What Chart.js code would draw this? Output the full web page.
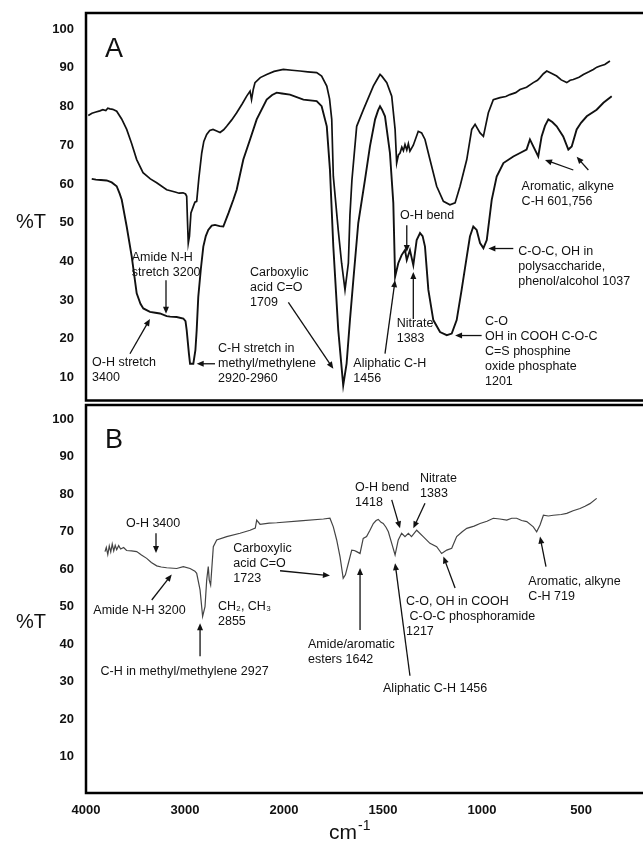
<!DOCTYPE html>
<html>
<head>
<meta charset="utf-8">
<script src="https://cdn.jsdelivr.net/npm/chart.js@4.4.1/dist/chart.umd.min.js"></script>
<style>
  html, body { margin: 0; padding: 0; background: #fff; overflow: hidden; }
  canvas { position: absolute; left: 0; }
  #chartA { top: 0; }
  #chartB { top: 403px; }
</style>
</head>
<body>
<canvas id="chartA" width="643" height="403"></canvas>
<canvas id="chartB" width="643" height="440"></canvas>
<script>
// tick labels
var xTickLabels = [4000, 3000, 2000, 1500, 1000, 500];
var yTicks = [10, 20, 30, 40, 50, 60, 70, 80, 90, 100];

// panel A, upper spectrum (wavenumber cm-1, %T)
var aUpperWn = [3977, 3940, 3900, 3860, 3830, 3800, 3780, 3758, 3730, 3690, 3640, 3589, 3540, 3488, 3424, 3350, 3286, 3185, 3100, 3060,
  3020, 2995, 2983, 2975, 2967, 2955, 2940, 2916, 2900, 2882, 2860, 2831, 2810, 2781, 2750, 2717, 2680, 2646, 2610, 2579,
  2530, 2478, 2420, 2377, 2343, 2328, 2310, 2293, 2240, 2175, 2100, 2007, 1960, 1919, 1880, 1835, 1810, 1784, 1770, 1759,
  1751, 1726, 1709, 1692, 1675, 1667, 1657, 1633, 1599, 1549, 1530, 1515, 1505, 1481, 1456, 1439, 1431, 1422, 1414, 1405,
  1397, 1389, 1380, 1372, 1364, 1347, 1322, 1305, 1288, 1263, 1229, 1195, 1162, 1136, 1111, 1077, 1052, 1035, 1010, 993,
  968, 943, 909, 880, 859, 830, 808, 775, 741, 720, 707, 690, 673, 650, 623, 600, 572, 555, 539, 510,
  488, 460, 438, 420, 404, 380, 354];
var aUpperT = [77.7, 78.3, 78.6, 78.9, 79.2, 79.0, 79.6, 79.4, 79.3, 78.8, 76.8, 74.1, 70.5, 66.3, 62.9, 61.3, 60.3, 58.5, 57.9, 57.6,
  57.7, 57.4, 56.8, 50.5, 44.7, 46.5, 52.5, 54.2, 55.3, 55.5, 61.5, 68.0, 71.0, 72.8, 73.8, 74.1, 73.7, 73.3, 74.0, 74.9,
  76.5, 78.4, 80.8, 82.7, 84.0, 81.8, 84.5, 86.2, 87.5, 88.3, 89.1, 89.6, 89.4, 89.2, 89.0, 88.8, 87.9, 85.3, 82.0, 76.7,
  62.0, 48.0, 39.5, 32.6, 39.5, 52.0, 61.0, 74.9, 79.2, 85.3, 87.0, 88.3, 87.8, 86.2, 82.7, 74.1, 65.4, 67.5, 68.0, 69.5,
  68.6, 70.2, 68.8, 70.4, 68.5, 70.0, 73.6, 73.2, 71.5, 66.3, 59.4, 55.5, 54.6, 55.1, 59.4, 66.3, 74.1, 75.4, 73.2, 72.3,
  78.4, 81.8, 82.3, 82.6, 83.1, 83.6, 84.4, 85.0, 86.2, 86.8, 87.5, 88.5, 89.2, 88.6, 87.9, 86.9, 86.2, 86.8, 87.0, 87.6,
  88.3, 89.0, 89.6, 90.2, 90.5, 90.9, 91.8];

// panel A, lower spectrum
var aLowerWn = [3942, 3900, 3850, 3791, 3740, 3690, 3660, 3639, 3589, 3538, 3488, 3450, 3421, 3354, 3300, 3253, 3185, 3150, 3084, 3017,
  2995, 2983, 2960, 2949, 2916, 2895, 2882, 2866, 2840, 2815, 2790, 2765, 2730, 2697, 2650, 2613, 2560, 2512, 2478, 2411,
  2343, 2276, 2175, 2120, 2074, 2020, 1970, 1902, 1835, 1810, 1784, 1768, 1751, 1726, 1701, 1684, 1667, 1650, 1625, 1591,
  1566, 1540, 1525, 1515, 1505, 1490, 1465, 1448, 1439, 1423, 1406, 1389, 1380, 1364, 1347, 1330, 1313, 1300, 1288, 1271,
  1246, 1212, 1178, 1153, 1128, 1103, 1077, 1061, 1044, 1027, 1010, 993, 976, 951, 926, 892, 842, 808, 775, 758,
  741, 716, 699, 682, 665, 645, 623, 590, 564, 547, 522, 500, 471, 421, 387, 345];
var aLowerT = [61.3, 61.1, 61.0, 60.9, 60.4, 59.4, 57.5, 55.9, 49.0, 41.2, 31.7, 29.0, 27.8, 26.9, 26.7, 26.5, 25.8, 25.7, 25.6, 25.2,
  24.5, 22.2, 16.0, 13.5, 13.5, 17.0, 22.2, 30.8, 38.0, 43.8, 46.5, 48.1, 49.2, 49.4, 49.1, 49.0, 52.5, 55.9, 58.5, 66.3,
  71.5, 76.7, 81.8, 83.0, 83.6, 83.4, 83.1, 81.8, 81.4, 80.1, 74.9, 63.7, 43.8, 22.2, 7.9, 13.5, 24.8, 35.1, 49.9, 61.1,
  69.7, 76.7, 79.0, 80.1, 79.2, 77.5, 68.0, 55.1, 36.0, 39.5, 41.6, 42.9, 40.3, 42.9, 39.0, 45.5, 47.3, 46.5, 43.8, 32.6,
  24.8, 21.7, 20.9, 21.3, 24.8, 32.6, 41.2, 46.4, 49.0, 48.1, 44.7, 43.4, 45.5, 55.9, 61.9, 65.4, 67.1, 68.0, 68.9, 71.5,
  69.7, 67.1, 72.3, 75.0, 76.7, 76.0, 74.9, 72.3, 68.9, 69.7, 74.1, 75.8, 77.5, 79.2, 81.0, 82.7];

// panel B spectrum
var bWn = [3808, 3795, 3780, 3765, 3750, 3735, 3720, 3705, 3690, 3670, 3650, 3620, 3590, 3540, 3488, 3440, 3387, 3340, 3286, 3240,
  3185, 3084, 3017, 2949, 2900, 2882, 2848, 2822, 2798, 2781, 2765, 2755, 2741, 2714, 2680, 2579, 2444, 2343, 2290, 2276,
  2242, 2150, 2074, 1919, 1801, 1768, 1751, 1734, 1717, 1701, 1690, 1675, 1658, 1645, 1633, 1616, 1600, 1583, 1566, 1549,
  1535, 1524, 1510, 1499, 1485, 1473, 1456, 1439, 1423, 1406, 1389, 1372, 1356, 1330, 1297, 1263, 1229, 1204, 1178, 1153,
  1128, 1100, 1077, 1040, 1010, 975, 943, 910, 875, 850, 825, 800, 774, 741, 724, 707, 690, 665, 640, 600,
  572, 540, 505, 480, 455, 421];
var bT = [64.7, 65.8, 63.9, 66.2, 64.6, 66.7, 64.9, 66.4, 65.2, 66.3, 65.4, 65.8, 65.0, 64.9, 64.7, 63.8, 62.9, 61.8, 60.9, 60.6,
  60.4, 60.2, 60.7, 60.2, 59.5, 58.9, 54.5, 47.4, 50.0, 57.1, 60.7, 57.1, 55.8, 66.0, 67.8, 68.7, 69.6, 70.4, 71.0, 73.1,
  72.0, 72.3, 72.4, 72.9, 73.4, 73.6, 71.3, 67.8, 63.3, 57.6, 58.5, 61.6, 65.1, 65.0, 64.7, 64.2, 68.2, 68.7, 70.4, 72.2,
  73.0, 73.3, 72.5, 72.2, 71.2, 70.0, 66.9, 63.8, 67.8, 69.6, 68.7, 69.6, 68.7, 70.4, 68.7, 66.9, 66.0, 64.2, 65.1, 65.6,
  68.7, 70.0, 70.9, 71.5, 72.2, 72.8, 73.6, 73.4, 73.1, 73.6, 73.6, 73.0, 72.7, 71.3, 70.0, 71.8, 74.4, 74.2, 74.4, 74.6,
  74.9, 75.6, 76.2, 76.8, 77.5, 78.9];

// band assignments: text lines, text anchor [cm-1, %T], arrows [from cm-1, %T, to cm-1, %T]
var notesA = [
  { lines: ['Amide N-H', 'stretch 3200'], at: [3538, 41.0], arrows: [[3192, 35.1, 3192, 26.4]] },
  { lines: ['O-H stretch', '3400'], at: [3939, 13.9], arrows: [[3556, 16.1, 3354, 25.1]] },
  { lines: ['C-H stretch in', 'methyl/methylene', '2920-2960'], at: [2667, 17.4], arrows: [[2697, 13.5, 2882, 13.5]] },
  { lines: ['Carboxylic', 'acid C=O', '1709'], at: [2343, 37.2], arrows: [[1978, 29.4, 1751, 12.2]] },
  { lines: ['O-H bend'], at: [1414, 51.9], arrows: [[1380, 49.3, 1380, 42.4]] },
  { lines: ['Nitrate', '1383'], at: [1431, 23.8], arrows: [[1347, 25.1, 1347, 37.2]] },
  { lines: ['Aliphatic C-H', '1456'], at: [1650, 13.6], arrows: [[1490, 16.1, 1439, 35.1]] },
  { lines: ['C-O', 'OH in COOH C-O-C', 'C=S phosphine', 'oxide phosphate', '1201'], at: [985, 24.3], arrows: [[1002, 20.8, 1136, 20.8]] },
  { lines: ['C-O-C, OH in', 'polysaccharide,', 'phenol/alcohol 1037'], at: [817, 42.4], arrows: [[842, 43.3, 968, 43.3]] },
  { lines: ['Aromatic, alkyne', 'C-H 601,756'], at: [800, 59.3], arrows: [[539, 63.6, 682, 66.2], [463, 63.6, 522, 67.0]] }
];
var notesB = [
  { lines: ['O-H 3400'], at: [3596, 72.3], arrows: [[3293, 69.6, 3293, 64.3]] },
  { lines: ['Amide N-H 3200'], at: [3926, 49.0], arrows: [[3336, 51.8, 3134, 58.6]] },
  { lines: ['CH\u2082, CH\u2083', '2855'], at: [2667, 50.0], arrows: [] },
  { lines: ['C-H in methyl/methylene 2927'], at: [3854, 32.7], arrows: [[2848, 36.8, 2848, 45.6]] },
  { lines: ['Carboxylic', 'acid C=O', '1723'], at: [2512, 65.4], arrows: [[2040, 59.6, 1768, 58.3]] },
  { lines: ['Amide/aromatic', 'esters 1642'], at: [1879, 39.8], arrows: [[1616, 43.8, 1616, 60.3]] },
  { lines: ['Aliphatic C-H 1456'], at: [1500, 28.3], arrows: [[1364, 31.6, 1439, 61.6]] },
  { lines: ['O-H bend', '1418'], at: [1641, 81.9], arrows: [[1456, 78.5, 1414, 70.9]] },
  { lines: ['Nitrate', '1383'], at: [1313, 84.3], arrows: [[1288, 77.6, 1347, 70.9]] },
  { lines: ['C-O, OH in COOH', ' C-O-C phosphoramide', '1217'], at: [1384, 51.4], arrows: [[1136, 55.0, 1195, 63.4]] },
  { lines: ['Aromatic, alkyne', 'C-H 719'], at: [766, 56.7], arrows: [[677, 60.7, 707, 68.7]] }
];

// the x axis is compressed 2x above 2000 cm-1, as on the instrument plot
function wnToPos(w) { return w >= 2000 ? (4000 - w) / 1000 : 2 + (2000 - w) / 500; }
function posToWn(p) { return p <= 2 ? 4000 - p * 1000 : 2000 - (p - 2) * 500; }

var FONT = "'Liberation Sans', 'DejaVu Sans', Arial, sans-serif";
var INK = '#111';
var X_MAX = 5.626;

function toPoints(wn, t) {
  return wn.map(function (w, i) { return { x: wnToPos(w), y: t[i] }; });
}

function arrow(ctx, x1, y1, x2, y2) {
  var a = Math.atan2(y2 - y1, x2 - x1), L = 7, W = 3;
  ctx.beginPath();
  ctx.moveTo(x1, y1);
  ctx.lineTo(x2 - (L - 1) * Math.cos(a), y2 - (L - 1) * Math.sin(a));
  ctx.stroke();
  ctx.beginPath();
  ctx.moveTo(x2, y2);
  ctx.lineTo(x2 - L * Math.cos(a) + W * Math.sin(a), y2 - L * Math.sin(a) - W * Math.cos(a));
  ctx.lineTo(x2 - L * Math.cos(a) - W * Math.sin(a), y2 - L * Math.sin(a) + W * Math.cos(a));
  ctx.closePath();
  ctx.fill();
}

// frame, panel letter, %T, band labels
function decor(notes, letter, letterAt, pctAt, withUnit) {
  return {
    id: 'decor',
    afterDraw: function (chart) {
      var ctx = chart.ctx, ca = chart.chartArea;
      var xs = chart.scales.x, ys = chart.scales.y;
      var px = function (w) { return xs.getPixelForValue(wnToPos(w)); };
      var py = function (v) { return ys.getPixelForValue(v); };
      ctx.save();
      ctx.strokeStyle = '#000';
      ctx.lineWidth = 2.5;
      ctx.beginPath();
      ctx.moveTo(ca.right + 5, ca.top);
      ctx.lineTo(ca.left, ca.top);
      ctx.lineTo(ca.left, ca.bottom);
      ctx.lineTo(ca.right + 5, ca.bottom);
      ctx.stroke();

      ctx.fillStyle = INK;
      ctx.textBaseline = 'alphabetic';
      ctx.textAlign = 'left';
      ctx.font = '27px ' + FONT;
      ctx.fillText(letter, px(letterAt[0]), py(letterAt[1]));

      ctx.textBaseline = 'middle';
      ctx.font = '20px ' + FONT;
      ctx.fillText('%T', 16, py(pctAt));

      ctx.font = '12.5px ' + FONT;
      ctx.lineWidth = 1.3;
      ctx.strokeStyle = INK;
      notes.forEach(function (n) {
        var x = px(n.at[0]), y = py(n.at[1]);
        n.lines.forEach(function (s, i) { ctx.fillText(s, x, y + i * 15); });
        n.arrows.forEach(function (a) { arrow(ctx, px(a[0]), py(a[1]), px(a[2]), py(a[3])); });
      });

      if (withUnit) {
        ctx.textBaseline = 'alphabetic';
        ctx.font = '21px ' + FONT;
        var cx = 329, by = 839 - 403;
        ctx.fillText('cm', cx, by);
        var wcm = ctx.measureText('cm').width;
        ctx.font = '14px ' + FONT;
        ctx.fillText('-1', cx + wcm + 1, by - 9);
      }
      ctx.restore();
    }
  };
}

function makeChart(id, datasets, yMin, yMax, showX, padTop, notes, letter, letterAt, pctAt) {
  return new Chart(document.getElementById(id), {
    type: 'line',
    data: { datasets: datasets },
    options: {
      responsive: false,
      animation: false,
      layout: { padding: { top: padTop, bottom: showX ? 0 : 2.5, left: 0, right: 0 } },
      elements: { point: { radius: 0 }, line: { tension: 0 } },
      plugins: { legend: { display: false }, tooltip: { enabled: false } },
      scales: {
        x: {
          type: 'linear', min: 0, max: X_MAX, display: showX,
          grid: { display: false, drawTicks: false }, border: { display: false },
          afterBuildTicks: function (s) { s.ticks = xTickLabels.map(function (w) { return { value: wnToPos(w) }; }); },
          afterFit: function (s) {
            if (showX) { s.height = 50; }
            s.paddingLeft = 0; s.paddingRight = 0;
          },
          ticks: {
            callback: function (v) { return String(Math.round(posToWn(v))); },
            font: { family: FONT, size: 13, weight: 'bold' }, color: INK,
            padding: 10, maxRotation: 0, autoSkip: false
          }
        },
        y: {
          min: yMin, max: yMax,
          grid: { display: false, drawTicks: false }, border: { display: false },
          afterBuildTicks: function (s) { s.ticks = yTicks.map(function (v) { return { value: v }; }); },
          afterFit: function (s) { s.width = 86; s.paddingTop = 0; s.paddingBottom = 0; },
          ticks: { font: { family: FONT, size: 13, weight: 'bold' }, color: INK, padding: 12 }
        }
      }
    },
    plugins: [decor(notes, letter, letterAt, pctAt, showX)]
  });
}

makeChart('chartA', [
  { data: toPoints(aUpperWn, aUpperT), borderColor: '#111', borderWidth: 1.7 },
  { data: toPoints(aLowerWn, aLowerT), borderColor: '#111', borderWidth: 1.9 }
], 4.0, 104.2, false, 13, notesA, 'A', [3808, 92.9], 50);

makeChart('chartB', [
  { data: toPoints(bWn, bT), borderColor: '#444', borderWidth: 1.2 }
], 0.33, 103.8, true, 2, notesB, 'B', [3808, 92.4], 45.8);
</script>
</body>
</html>
